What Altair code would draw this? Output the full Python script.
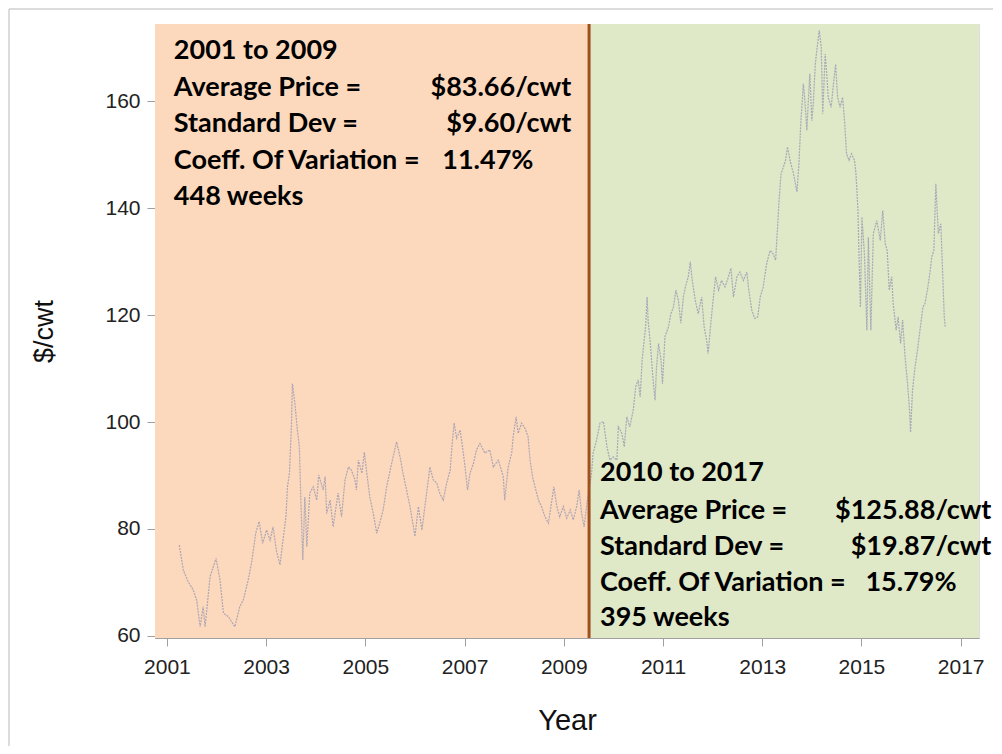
import altair as alt
import pandas as pd

# ---- weekly price series ----
years = [
    2001.25, 2001.33, 2001.43, 2001.53, 2001.60, 2001.67, 2001.73, 2001.77, 2001.87, 2001.99,
    2002.07, 2002.14, 2002.24, 2002.30, 2002.37, 2002.47, 2002.54, 2002.64, 2002.71, 2002.79,
    2002.86, 2002.93, 2003.01, 2003.08, 2003.14, 2003.21, 2003.28, 2003.34, 2003.40, 2003.43,
    2003.47, 2003.51, 2003.53, 2003.58, 2003.63, 2003.67, 2003.70, 2003.74, 2003.78, 2003.82,
    2003.88, 2003.95, 2004.02, 2004.06, 2004.15, 2004.19, 2004.22, 2004.29, 2004.35, 2004.45,
    2004.52, 2004.59, 2004.66, 2004.72, 2004.79, 2004.82, 2004.86, 2004.93, 2004.98, 2005.03,
    2005.09, 2005.16, 2005.23, 2005.29, 2005.36, 2005.43, 2005.50, 2005.56, 2005.63, 2005.70,
    2005.76, 2005.83, 2005.90, 2005.97, 2006.00, 2006.07, 2006.14, 2006.20, 2006.27, 2006.30,
    2006.37, 2006.44, 2006.50, 2006.57, 2006.64, 2006.71, 2006.75, 2006.79, 2006.84, 2006.91,
    2006.95, 2007.01, 2007.06, 2007.11, 2007.18, 2007.24, 2007.31, 2007.41, 2007.51, 2007.58,
    2007.68, 2007.78, 2007.81, 2007.88, 2007.95, 2007.98, 2008.04, 2008.08, 2008.15, 2008.22,
    2008.28, 2008.32, 2008.37, 2008.42, 2008.49, 2008.55, 2008.62, 2008.69, 2008.76, 2008.80,
    2008.86, 2008.92, 2008.99, 2009.06, 2009.13, 2009.19, 2009.26, 2009.31, 2009.36, 2009.41,
    2009.47, 2009.56, 2009.59, 2009.66, 2009.73, 2009.80, 2009.87, 2009.93, 2010.00, 2010.07,
    2010.10, 2010.17, 2010.22, 2010.27, 2010.33, 2010.40, 2010.45, 2010.50, 2010.54, 2010.58,
    2010.62, 2010.65, 2010.68, 2010.70, 2010.75, 2010.80, 2010.84, 2010.87, 2010.91, 2010.96,
    2010.99, 2011.04, 2011.11, 2011.16, 2011.21, 2011.26, 2011.31, 2011.36, 2011.41, 2011.46,
    2011.51, 2011.55, 2011.59, 2011.65, 2011.71, 2011.78, 2011.83, 2011.88, 2011.91, 2011.97,
    2012.01, 2012.06, 2012.12, 2012.18, 2012.25, 2012.32, 2012.37, 2012.42, 2012.49, 2012.55,
    2012.62, 2012.69, 2012.73, 2012.79, 2012.85, 2012.91, 2012.96, 2013.02, 2013.09, 2013.16,
    2013.22, 2013.27, 2013.31, 2013.34, 2013.38, 2013.43, 2013.47, 2013.51, 2013.56, 2013.63,
    2013.70, 2013.74, 2013.78, 2013.83, 2013.86, 2013.90, 2013.93, 2013.96, 2014.00, 2014.03,
    2014.07, 2014.10, 2014.15, 2014.19, 2014.22, 2014.27, 2014.30, 2014.33, 2014.39, 2014.43,
    2014.48, 2014.52, 2014.57, 2014.62, 2014.66, 2014.70, 2014.75, 2014.80, 2014.86, 2014.89,
    2014.93, 2014.95, 2014.98, 2015.01, 2015.06, 2015.11, 2015.14, 2015.19, 2015.24, 2015.31,
    2015.38, 2015.43, 2015.48, 2015.52, 2015.56, 2015.61, 2015.64, 2015.70, 2015.74, 2015.79,
    2015.83, 2015.88, 2015.93, 2015.97, 2015.99, 2016.03, 2016.08, 2016.13, 2016.18, 2016.24,
    2016.28, 2016.33, 2016.38, 2016.42, 2016.46, 2016.50, 2016.55, 2016.60, 2016.64, 2016.67,
    2016.69,
]
prices = [
    77.0, 72.3, 70.1, 68.6, 66.7, 61.7, 65.5, 61.7, 71.1, 74.5,
    70.5, 64.2, 63.6, 62.7, 61.7, 65.5, 66.7, 70.5, 73.9, 79.2,
    81.4, 77.3, 79.8, 77.9, 80.4, 75.8, 73.3, 77.9, 82.3, 87.9,
    90.4, 99.1, 107.2, 103.5, 98.5, 95.4, 85.4, 74.2, 86.0, 76.7,
    86.7, 87.9, 85.4, 90.1, 87.3, 89.8, 82.9, 85.4, 80.4, 86.7,
    82.3, 89.2, 91.6, 91.0, 89.2, 87.3, 92.9, 90.4, 94.4, 90.4,
    86.0, 82.9, 79.2, 81.1, 83.6, 87.9, 91.0, 93.5, 96.3, 93.5,
    90.4, 87.3, 84.2, 80.4, 78.6, 84.2, 79.8, 84.2, 89.2, 91.6,
    89.2, 88.6, 86.7, 85.4, 88.6, 91.0, 96.0, 99.8, 97.0, 98.5,
    96.0, 91.6, 87.3, 90.4, 92.3, 94.8, 96.0, 94.2, 94.8, 91.6,
    92.9, 89.8, 85.4, 91.6, 94.2, 97.3, 101.0, 97.9, 99.8, 98.8,
    97.3, 92.9, 89.8, 87.9, 85.4, 84.2, 82.3, 81.1, 85.4, 87.9,
    84.2, 82.3, 84.2, 82.0, 83.6, 81.7, 84.2, 87.3, 82.9, 80.4,
    85.0, 90.4, 94.2, 96.6, 99.8, 100.1, 95.4, 92.9, 93.5, 92.9,
    99.1, 97.9, 95.4, 101.0, 99.1, 102.2, 106.6, 107.9, 104.7, 111.6,
    115.3, 117.8, 123.4, 119.1, 114.1, 107.9, 104.1, 110.3, 114.7, 111.6,
    107.2, 116.0, 117.8, 120.3, 121.5, 124.7, 122.8, 118.5, 123.4, 125.6,
    127.2, 130.0, 126.5, 122.8, 120.3, 123.4, 117.8, 115.3, 112.8, 119.1,
    122.8, 127.2, 124.7, 126.5, 125.3, 127.2, 128.8, 123.4, 127.2, 128.1,
    126.5, 128.1, 124.7, 120.9, 119.4, 119.7, 123.4, 125.3, 129.7, 132.1,
    131.5, 130.3, 136.5, 141.5, 146.5, 147.8, 149.0, 151.5, 149.0, 146.5,
    143.1, 148.3, 156.4, 163.3, 160.2, 154.6, 160.2, 165.2, 156.4, 159.6,
    167.0, 169.5, 173.3, 170.2, 157.7, 168.9, 165.2, 160.8, 158.9, 162.7,
    167.0, 160.8, 158.9, 160.8, 156.4, 150.2, 149.0, 150.2, 149.0, 146.5,
    139.6, 131.5, 121.5, 138.4, 131.5, 117.2, 134.6, 117.2, 135.3, 137.7,
    134.0, 139.6, 133.4, 132.1, 124.7, 127.2, 122.2, 117.2, 119.7, 114.7,
    119.1, 112.2, 107.2, 102.2, 98.1, 106.0, 110.3, 113.5, 117.2, 121.5,
    122.2, 124.7, 127.9, 131.0, 132.1, 144.6, 135.3, 137.1, 127.2, 119.7,
    117.8,
]

# ---- periods ----
period_start = [2000.76, 2009.51]
period_end = [2009.51, 2017.37]
period_name = ["2001-2009", "2010-2017"]
period_fill = ["#fcd9bd", "#dfe8c7"]
divider_year = [2009.51]

x_domain = [2000.76, 2017.37]
y_domain = [59.6, 174.5]
x_ticks = [2001, 2003, 2005, 2007, 2009, 2011, 2013, 2015, 2017]
y_ticks = [60, 80, 100, 120, 140, 160]

# ---- annotation texts ----
left_text = ["2001 to 2009", "Average Price =", "Standard Dev =", "Coeff. Of Variation =", "448 weeks", "11.47%",
             "2010 to 2017", "Average Price =", "Standard Dev =", "Coeff. Of Variation =", "395 weeks", "15.79%"]
left_x = [2001.14] * 5 + [2006.55] + [2009.73] * 5 + [2015.08]
left_y = [169.5, 162.6, 155.7, 148.8, 142.1, 148.8, 90.5, 83.4, 76.6, 69.9, 63.4, 69.9]
right_text = ["$83.66/cwt", "$9.60/cwt", "$125.88/cwt", "$19.87/cwt"]
right_x = [2009.15, 2009.15, 2017.62, 2017.62]
right_y = [162.6, 155.7, 83.4, 76.6]

series = pd.DataFrame({"year": years, "price": prices})
periods = pd.DataFrame({"start": period_start, "end": period_end, "period": period_name,
                        "lo": [y_domain[0]] * 2, "hi": [y_domain[1]] * 2})
divider = pd.DataFrame({"year": divider_year})
ltext = pd.DataFrame({"t": left_text, "x": left_x, "y": left_y})
rtext = pd.DataFrame({"t": right_text, "x": right_x, "y": right_y})

AXIS_FONT = "Liberation Sans Narrow, Arial Narrow, Liberation Sans"
ANN_FONT = "Lato"

xs = alt.Scale(domain=x_domain, nice=False, zero=False)
ys = alt.Scale(domain=y_domain, nice=False, zero=False)

bands = alt.Chart(periods).mark_rect().encode(
    x=alt.X("start:Q", scale=xs, axis=alt.Axis(
        values=x_ticks, format="d", title="Year", grid=False,
        labelFont=AXIS_FONT, labelFontSize=21, labelColor="#222222", labelPadding=10,
        titleFont=AXIS_FONT, titleFontSize=29, titleFontWeight="normal", titleColor="#111111",
        titlePadding=29, tickSize=8, tickColor="#a0a0a0", domainColor="#a0a0a0")),
    x2="end:Q",
    y=alt.Y("lo:Q", scale=ys, axis=alt.Axis(
        values=y_ticks, title="$/cwt", grid=False,
        labelFont=AXIS_FONT, labelFontSize=21, labelColor="#222222", labelPadding=7,
        titleFont=AXIS_FONT, titleFontSize=27, titleFontWeight="normal", titleColor="#111111",
        titlePadding=46, tickSize=8, tickColor="#a0a0a0", domainColor="#a0a0a0")),
    y2="hi:Q",
    color=alt.Color("period:N", scale=alt.Scale(domain=period_name, range=period_fill), legend=None),
)

rule = alt.Chart(divider).mark_rule(color="#a0501e", strokeWidth=3).encode(x="year:Q")

line = alt.Chart(series).mark_line(color="#8c90b0", strokeWidth=1.2, opacity=0.7,
                                   strokeDash=[2, 1]).encode(
    x=alt.X("year:Q", scale=xs), y=alt.Y("price:Q", scale=ys))

tl = alt.Chart(ltext).mark_text(align="left", baseline="middle", font=ANN_FONT, fontSize=27,
                                fontWeight="bold", color="#000000").encode(
    x=alt.X("x:Q", scale=xs), y=alt.Y("y:Q", scale=ys), text="t:N")
tr = alt.Chart(rtext).mark_text(align="right", baseline="middle", font=ANN_FONT, fontSize=27,
                                fontWeight="bold", color="#000000").encode(
    x=alt.X("x:Q", scale=xs), y=alt.Y("y:Q", scale=ys), text="t:N")

frame_data = alt.Data(values=[{"k": 1}])
frame_left = alt.Chart(frame_data).mark_rule(color="#d0d0d0", strokeWidth=1.5).encode(
    x=alt.value(-146), y=alt.value(-15), y2=alt.value(730))
frame_top = alt.Chart(frame_data).mark_rule(color="#d0d0d0", strokeWidth=1.5).encode(
    x=alt.value(-146), x2=alt.value(838), y=alt.value(-15))

chart = alt.layer(bands, line, rule, tl, tr, frame_left, frame_top).properties(
    width=824, height=614,
    autosize=alt.AutoSizeParams(type="none"),
    padding={"left": 147, "top": 16, "right": 15, "bottom": 108},
).configure_view(stroke="#c8c8c8", strokeWidth=1).configure(background="white")

chart.save("out.html", embed_options={"renderer": "svg", "actions": False})
